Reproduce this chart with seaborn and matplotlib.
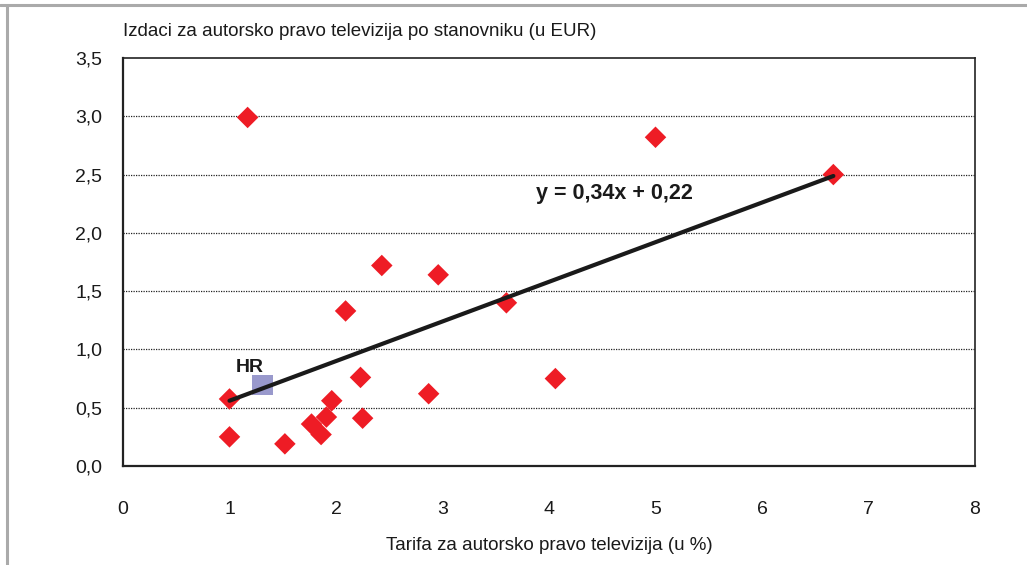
import numpy as np
import pandas as pd
import matplotlib
matplotlib.use("Agg")
import matplotlib.pyplot as plt
import seaborn as sns
from matplotlib.lines import Line2D

# Data
tarifa = [1.17, 5.00, 6.67, 2.43, 2.96, 2.09, 3.60, 2.23, 4.06, 1.00,
          2.87, 1.96, 1.91, 1.77, 2.25, 1.86, 1.00, 1.52]
izdaci = [2.99, 2.82, 2.50, 1.72, 1.64, 1.33, 1.40, 0.76, 0.75, 0.575,
          0.62, 0.56, 0.42, 0.36, 0.41, 0.27, 0.25, 0.19]
hr_x = [1.31]
hr_y = [0.695]
slope = 0.34
intercept = 0.22
x_ticks = [0, 1, 2, 3, 4, 5, 6, 7, 8]
y_ticks = [0.0, 0.5, 1.0, 1.5, 2.0, 2.5, 3.0, 3.5]
x_label = "Tarifa za autorsko pravo televizija (u %)"
y_label = "Izdaci za autorsko pravo televizija po stanovniku (u EUR)"
eq_label = "y = 0,34x + 0,22"

sns.set_style("white")
plt.rcParams['font.family'] = ['Liberation Sans', 'DejaVu Sans']

fig = plt.figure(figsize=(10.27, 5.65), dpi=100)
ax = fig.add_axes([123/1027, 1-466/565, (975-123)/1027, (466-58)/565])

df = pd.DataFrame({"x": tarifa, "y": izdaci})
sns.scatterplot(data=df, x="x", y="y", marker="D", s=120, color="#ee1c25",
                edgecolor="none", ax=ax, zorder=3)

# regression line
xl = np.array([min(tarifa), max(tarifa)])
line_df = pd.DataFrame({"x": xl, "y": slope * xl + intercept})
sns.lineplot(data=line_df, x="x", y="y", color="#1a1a1a", linewidth=3, ax=ax, zorder=4)

# HR marker
hr_df = pd.DataFrame({"x": hr_x, "y": hr_y})
sns.scatterplot(data=hr_df, x="x", y="y", marker="s", s=210, color="#9999cc",
                edgecolor="none", ax=ax, zorder=2)
ax.text(1.19, 0.806, "HR", fontsize=14, fontweight="bold",
        ha="center", va="baseline", color="#1a1a1a")

ax.text(3.88, 2.29, eq_label, fontsize=15.5, fontweight="bold", ha="left",
        va="baseline", color="#1a1a1a")

ax.set_xlim(0, 8)
ax.set_ylim(0, 3.5)
ax.set_xticks(x_ticks)
ax.set_yticks(y_ticks)
ax.set_xticklabels([str(t) for t in x_ticks])
ax.set_yticklabels([f"{t:.1f}".replace(".", ",") for t in y_ticks])
ax.tick_params(axis="both", which="major", direction="out", length=6, width=1,
               color="#333333", labelsize=14, labelcolor="#1a1a1a")
ax.tick_params(axis="x", pad=19)
ax.tick_params(axis="y", pad=9)

for yv in y_ticks[1:-1]:
    ax.axhline(yv, color="#222222", linestyle=(0, (1, 1)), linewidth=0.9, zorder=1)

for s in ax.spines.values():
    s.set_visible(True)
    s.set_color("#222222")
    s.set_linewidth(1.2)
ax.spines["left"].set_linewidth(1.6)
ax.spines["bottom"].set_linewidth(1.6)

ax.set_xlabel("")
ax.set_ylabel("")
fig.text(549/1027, 1-545/565, x_label, fontsize=13.5, ha="center", va="center", color="#1a1a1a")
fig.text(123/1027, 1-32/565, y_label, fontsize=13.5, ha="left", va="center", color="#1a1a1a")

# gray frame lines
fig.add_artist(Line2D([0, 1], [1-5/565, 1-5/565], transform=fig.transFigure,
                      color="#aaaaaa", linewidth=2.2))
fig.add_artist(Line2D([7/1027, 7/1027], [0, 1-5/565], transform=fig.transFigure,
                      color="#aaaaaa", linewidth=2.2))

fig.savefig("out.png", dpi=100)
